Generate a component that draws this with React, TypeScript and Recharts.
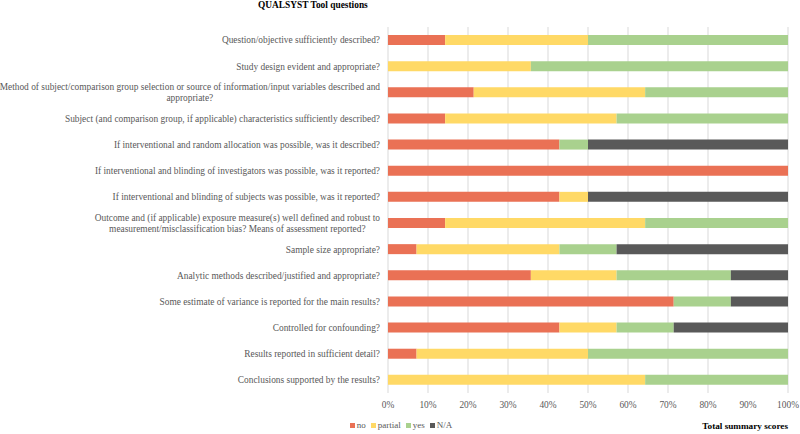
import { BarChart, Bar, XAxis, YAxis, CartesianGrid, Legend } from "recharts"

const categories = [
  "Question/objective sufficiently described?",
  "Study design evident and appropriate?",
  "Method of subject/comparison group selection or source of information/input variables described and\nappropriate?",
  "Subject (and comparison group, if applicable) characteristics sufficiently described?",
  "If interventional and random allocation was possible, was it described?",
  "If interventional and blinding of investigators was possible, was it reported?",
  "If interventional and blinding of subjects was possible, was it reported?",
  "Outcome and (if applicable) exposure measure(s) well defined and robust to\nmeasurement/misclassification bias? Means of assessment reported?",
  "Sample size appropriate?",
  "Analytic methods described/justified and appropriate?",
  "Some estimate of variance is reported for the main results?",
  "Controlled for confounding?",
  "Results reported in sufficient detail?",
  "Conclusions supported by the results?",
]

// number of studies (out of 14) per answer
const noVals = [2, 0, 3, 2, 6, 14, 6, 2, 1, 5, 10, 6, 1, 0]
const partialVals = [5, 5, 6, 6, 0, 0, 1, 7, 5, 3, 0, 2, 6, 9]
const yesVals = [7, 9, 5, 6, 1, 0, 0, 5, 2, 4, 2, 2, 7, 5]
const naVals = [0, 0, 0, 0, 7, 0, 7, 0, 6, 2, 2, 4, 0, 0]

const xTicks = [0, 0.1, 0.2, 0.3, 0.4, 0.5, 0.6, 0.7, 0.8, 0.9, 1]

const series = [
  { key: "no", color: "#EA7155" },
  { key: "partial", color: "#FFD966" },
  { key: "yes", color: "#A9D18E" },
  { key: "N/A", color: "#595959" },
]

const FONT = "'Liberation Serif', 'Times New Roman', serif"
const FS = 9.4

let ctx: CanvasRenderingContext2D | null = null
function textWidth(s: string) {
  if (!ctx) ctx = document.createElement("canvas").getContext("2d")
  if (!ctx) return s.length * 4.2
  ctx.font = `${FS}px 'Liberation Serif'`
  return ctx.measureText(s).width
}

function QuestionTick(props: any) {
  const { x, y, payload } = props
  const lines: string[] = String(payload.value).split("\n")
  const right = x
  if (lines.length === 1) {
    return (
      <text x={right} y={y} dy="0.35em" textAnchor="end" fontSize={FS} fontFamily={FONT} fill="#595959">
        {lines[0]}
      </text>
    )
  }
  const maxW = Math.max(...lines.map(textWidth))
  const cx = right - maxW / 2
  const lh = 11
  const y0 = y - ((lines.length - 1) * lh) / 2
  return (
    <text textAnchor="middle" fontSize={FS} fontFamily={FONT} fill="#595959">
      {lines.map((l, i) => (
        <tspan key={i} x={cx} y={y0 + i * lh} dy="0.35em">{l}</tspan>
      ))}
    </text>
  )
}

function LegendRow() {
  return (
    <div style={{ display: "flex", justifyContent: "center", gap: 5, fontFamily: FONT, fontSize: 9, color: "#595959", paddingTop: 5, paddingLeft: 14 }}>
      {series.map(s => (
        <span key={s.key} style={{ display: "flex", alignItems: "center" }}>
          <span style={{ width: 5, height: 5, background: s.color, display: "inline-block", marginRight: 2 }} />
          {s.key}
        </span>
      ))}
    </div>
  )
}

export default function App() {
  const data = categories.map((name, i) => ({
    name,
    no: noVals[i],
    partial: partialVals[i],
    yes: yesVals[i],
    "N/A": naVals[i],
  }))

  return (
    <div style={{ position: "absolute", left: 0, top: 0, width: 800, height: 434, background: "#fff" }}>
      <div style={{ position: "absolute", left: 258, top: 0, fontFamily: FONT, fontSize: FS, fontWeight: 700, color: "#000" }}>
        QUALSYST Tool questions
      </div>
      <div style={{ position: "absolute", right: 12, top: 421, fontFamily: FONT, fontSize: 9.2, fontWeight: 700, color: "#000" }}>
        Total summary scores
      </div>
      <BarChart
        width={800}
        height={434}
        data={data}
        layout="vertical"
        stackOffset="expand"
        barSize={10}
        margin={{ top: 27, right: 12, left: 0, bottom: 0 }}
      >
        <CartesianGrid horizontal={false} stroke="#D9D9D9" />
        <XAxis
          type="number"
          domain={[0, 1]}
          ticks={xTicks}
          tickFormatter={(v: number) => `${Math.round(v * 100)}%`}
          axisLine={false}
          tickLine={false}
          height={22}
          tick={{ fontSize: FS, fontFamily: FONT, fill: "#595959" }}
        />
        <YAxis
          type="category"
          dataKey="name"
          width={388}
          axisLine={false}
          tickLine={false}
          interval={0}
          tick={<QuestionTick />}
        />
        <Legend height={19} verticalAlign="bottom" content={() => <LegendRow />} />
        {series.map(s => (
          <Bar key={s.key} dataKey={s.key} stackId="a" fill={s.color} isAnimationActive={false} />
        ))}
      </BarChart>
    </div>
  )
}
